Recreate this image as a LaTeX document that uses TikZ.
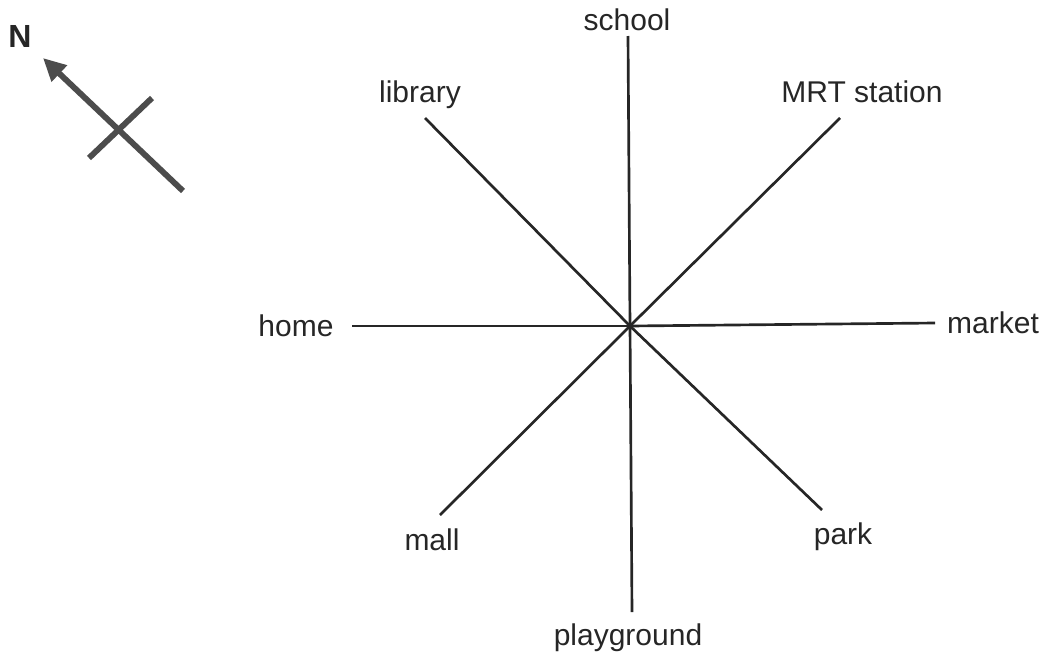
\documentclass[tikz,border=0pt]{standalone}
\usepackage{fontspec}
\setmainfont{Liberation Sans}
\usetikzlibrary{arrows.meta}
\begin{document}
\begin{tikzpicture}[x=0.75pt,y=-0.75pt,
  lbl/.style={font=\fontsize{22.5}{24}\selectfont, inner sep=0pt, text=black!85},
  ray/.style={draw=black!85, line width=2pt},
  compass/.style={draw=black!70, line width=4.4pt}]
\useasboundingbox (0,0) rectangle (1049,664);
% centre and ray ends
\coordinate (c) at (630,326);
\coordinate (eS) at (628,36);
\coordinate (eP) at (632,612);
\coordinate (eH) at (352,326);
\coordinate (eM) at (935,323);
\coordinate (eL) at (425,118);
\coordinate (eK) at (822,510);
\coordinate (eR) at (840,118);
\coordinate (eA) at (440,515);
\foreach \e in {eS,eP,eH,eM,eL,eK,eR,eA} \draw[ray] (c) -- (\e);
% labels
\node[lbl] (school) at (627,20) {school};
\node[lbl] (library) at (420,95) {library};
\node[lbl] (mrt) at (862,92) {MRT station};
\node[lbl] (home) at (296,326) {home};
\node[lbl] (market) at (993,323) {market};
\node[lbl] (mall) at (432,540) {mall};
\node[lbl] (park) at (843,537) {park};
\node[lbl] (playground) at (628,638) {playground};
% compass
\coordinate (nTail) at (183,191);
\coordinate (nTip) at (43,58);
\coordinate (bA) at (89,158);
\coordinate (bB) at (152,98);
\draw[compass] (bA) -- (bB);
\draw[compass, -{Triangle[length=17pt,width=16pt]}] (nTail) -- (nTip);
\node[lbl, font=\fontsize{24}{26}\selectfont\bfseries] (N) at (20,36) {N};
\end{tikzpicture}
\end{document}
